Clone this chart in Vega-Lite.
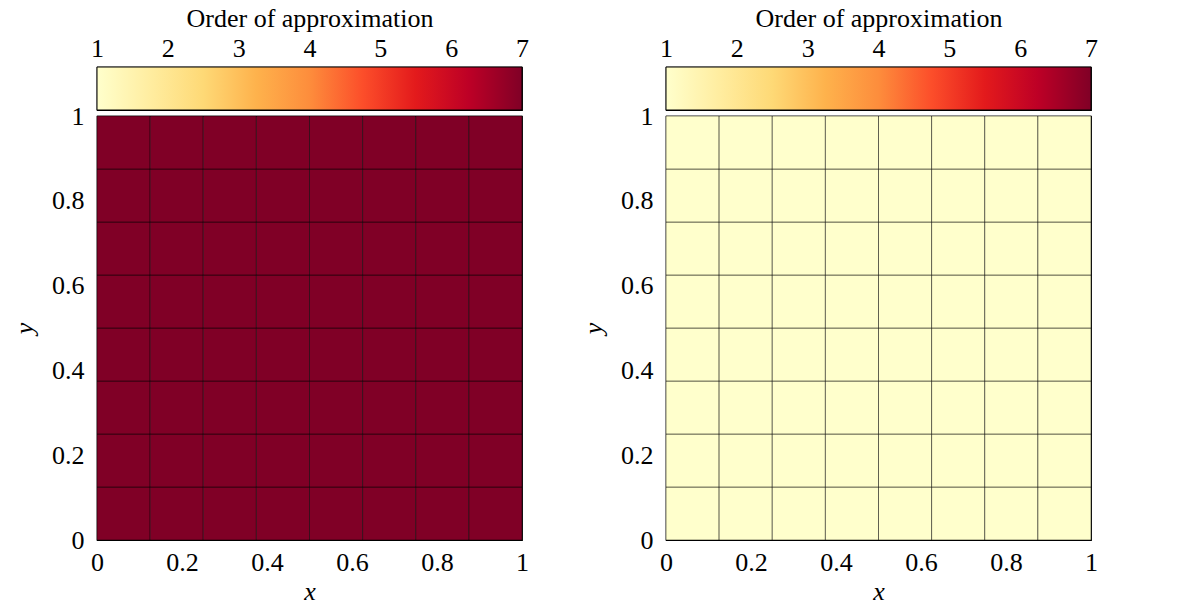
{
  "$schema": "https://vega.github.io/schema/vega-lite/v6.json",
  "background": "white",
  "padding": {"left": 10, "top": 4, "right": 5, "bottom": 2},
  "datasets": {
    "bar": [{"lo": 1, "hi": 7}],
    "cells": [
      {"x":0,"x2":0.125,"y":0,"y2":0.125,"L":7,"R":1},{"x":0.125,"x2":0.25,"y":0,"y2":0.125,"L":7,"R":1},{"x":0.25,"x2":0.375,"y":0,"y2":0.125,"L":7,"R":1},{"x":0.375,"x2":0.5,"y":0,"y2":0.125,"L":7,"R":1},{"x":0.5,"x2":0.625,"y":0,"y2":0.125,"L":7,"R":1},{"x":0.625,"x2":0.75,"y":0,"y2":0.125,"L":7,"R":1},{"x":0.75,"x2":0.875,"y":0,"y2":0.125,"L":7,"R":1},{"x":0.875,"x2":1,"y":0,"y2":0.125,"L":7,"R":1},
      {"x":0,"x2":0.125,"y":0.125,"y2":0.25,"L":7,"R":1},{"x":0.125,"x2":0.25,"y":0.125,"y2":0.25,"L":7,"R":1},{"x":0.25,"x2":0.375,"y":0.125,"y2":0.25,"L":7,"R":1},{"x":0.375,"x2":0.5,"y":0.125,"y2":0.25,"L":7,"R":1},{"x":0.5,"x2":0.625,"y":0.125,"y2":0.25,"L":7,"R":1},{"x":0.625,"x2":0.75,"y":0.125,"y2":0.25,"L":7,"R":1},{"x":0.75,"x2":0.875,"y":0.125,"y2":0.25,"L":7,"R":1},{"x":0.875,"x2":1,"y":0.125,"y2":0.25,"L":7,"R":1},
      {"x":0,"x2":0.125,"y":0.25,"y2":0.375,"L":7,"R":1},{"x":0.125,"x2":0.25,"y":0.25,"y2":0.375,"L":7,"R":1},{"x":0.25,"x2":0.375,"y":0.25,"y2":0.375,"L":7,"R":1},{"x":0.375,"x2":0.5,"y":0.25,"y2":0.375,"L":7,"R":1},{"x":0.5,"x2":0.625,"y":0.25,"y2":0.375,"L":7,"R":1},{"x":0.625,"x2":0.75,"y":0.25,"y2":0.375,"L":7,"R":1},{"x":0.75,"x2":0.875,"y":0.25,"y2":0.375,"L":7,"R":1},{"x":0.875,"x2":1,"y":0.25,"y2":0.375,"L":7,"R":1},
      {"x":0,"x2":0.125,"y":0.375,"y2":0.5,"L":7,"R":1},{"x":0.125,"x2":0.25,"y":0.375,"y2":0.5,"L":7,"R":1},{"x":0.25,"x2":0.375,"y":0.375,"y2":0.5,"L":7,"R":1},{"x":0.375,"x2":0.5,"y":0.375,"y2":0.5,"L":7,"R":1},{"x":0.5,"x2":0.625,"y":0.375,"y2":0.5,"L":7,"R":1},{"x":0.625,"x2":0.75,"y":0.375,"y2":0.5,"L":7,"R":1},{"x":0.75,"x2":0.875,"y":0.375,"y2":0.5,"L":7,"R":1},{"x":0.875,"x2":1,"y":0.375,"y2":0.5,"L":7,"R":1},
      {"x":0,"x2":0.125,"y":0.5,"y2":0.625,"L":7,"R":1},{"x":0.125,"x2":0.25,"y":0.5,"y2":0.625,"L":7,"R":1},{"x":0.25,"x2":0.375,"y":0.5,"y2":0.625,"L":7,"R":1},{"x":0.375,"x2":0.5,"y":0.5,"y2":0.625,"L":7,"R":1},{"x":0.5,"x2":0.625,"y":0.5,"y2":0.625,"L":7,"R":1},{"x":0.625,"x2":0.75,"y":0.5,"y2":0.625,"L":7,"R":1},{"x":0.75,"x2":0.875,"y":0.5,"y2":0.625,"L":7,"R":1},{"x":0.875,"x2":1,"y":0.5,"y2":0.625,"L":7,"R":1},
      {"x":0,"x2":0.125,"y":0.625,"y2":0.75,"L":7,"R":1},{"x":0.125,"x2":0.25,"y":0.625,"y2":0.75,"L":7,"R":1},{"x":0.25,"x2":0.375,"y":0.625,"y2":0.75,"L":7,"R":1},{"x":0.375,"x2":0.5,"y":0.625,"y2":0.75,"L":7,"R":1},{"x":0.5,"x2":0.625,"y":0.625,"y2":0.75,"L":7,"R":1},{"x":0.625,"x2":0.75,"y":0.625,"y2":0.75,"L":7,"R":1},{"x":0.75,"x2":0.875,"y":0.625,"y2":0.75,"L":7,"R":1},{"x":0.875,"x2":1,"y":0.625,"y2":0.75,"L":7,"R":1},
      {"x":0,"x2":0.125,"y":0.75,"y2":0.875,"L":7,"R":1},{"x":0.125,"x2":0.25,"y":0.75,"y2":0.875,"L":7,"R":1},{"x":0.25,"x2":0.375,"y":0.75,"y2":0.875,"L":7,"R":1},{"x":0.375,"x2":0.5,"y":0.75,"y2":0.875,"L":7,"R":1},{"x":0.5,"x2":0.625,"y":0.75,"y2":0.875,"L":7,"R":1},{"x":0.625,"x2":0.75,"y":0.75,"y2":0.875,"L":7,"R":1},{"x":0.75,"x2":0.875,"y":0.75,"y2":0.875,"L":7,"R":1},{"x":0.875,"x2":1,"y":0.75,"y2":0.875,"L":7,"R":1},
      {"x":0,"x2":0.125,"y":0.875,"y2":1,"L":7,"R":1},{"x":0.125,"x2":0.25,"y":0.875,"y2":1,"L":7,"R":1},{"x":0.25,"x2":0.375,"y":0.875,"y2":1,"L":7,"R":1},{"x":0.375,"x2":0.5,"y":0.875,"y2":1,"L":7,"R":1},{"x":0.5,"x2":0.625,"y":0.875,"y2":1,"L":7,"R":1},{"x":0.625,"x2":0.75,"y":0.875,"y2":1,"L":7,"R":1},{"x":0.75,"x2":0.875,"y":0.875,"y2":1,"L":7,"R":1},{"x":0.875,"x2":1,"y":0.875,"y2":1,"L":7,"R":1}
    ]
  },
  "config": {
    "font": "Liberation Serif",
    "view": {"stroke": "black", "strokeWidth": 1.2},
    "axis": {
      "labelFont": "Liberation Serif", "titleFont": "Liberation Serif",
      "labelFontSize": 26, "titleFontSize": 26, "labelColor": "black", "titleColor": "black",
      "titleFontWeight": "normal", "ticks": false, "domain": false, "grid": false
    }
  },
  "spacing": 49,
  "hconcat": [
    {
      "spacing": -10,
      "vconcat": [
        {
          "width": 425, "height": 43,
          "data": {"name": "bar"},
          "mark": {"type": "rect", "stroke": "black", "strokeWidth": 1,
            "fill": {"gradient": "linear", "x1": 0, "y1": 0, "x2": 1, "y2": 0,
              "stops": [
                {"offset": 0, "color": "#ffffcc"}, {"offset": 0.125, "color": "#ffeda0"},
                {"offset": 0.25, "color": "#fed976"}, {"offset": 0.375, "color": "#feb24c"},
                {"offset": 0.5, "color": "#fd8d3c"}, {"offset": 0.625, "color": "#fc4e2a"},
                {"offset": 0.75, "color": "#e31a1c"}, {"offset": 0.875, "color": "#bd0026"},
                {"offset": 1, "color": "#800026"}]}},
          "encoding": {
            "x": {"field": "lo", "type": "quantitative", "scale": {"domain": [1, 7], "nice": false, "zero": false},
              "axis": {"orient": "top", "values": [1,2,3,4,5,6,7], "labelFlush": false, "labelPadding": 6, "title": "Order of approximation", "titlePadding": 4}},
            "x2": {"field": "hi"}
          }
        },
        {
          "width": 425, "height": 424,
          "data": {"name": "cells"},
          "mark": {"type": "rect", "stroke": "black", "strokeWidth": 0.5},
          "encoding": {
            "x": {"field": "x", "type": "quantitative", "scale": {"domain": [0, 1], "nice": false},
              "axis": {"values": [0,0.2,0.4,0.6,0.8,1], "format": "~g", "labelFlush": false, "labelPadding": 9, "title": "x", "titleFontStyle": "italic", "titlePadding": 3}},
            "x2": {"field": "x2"},
            "y": {"field": "y", "type": "quantitative", "scale": {"domain": [0, 1], "nice": false},
              "axis": {"values": [0,0.2,0.4,0.6,0.8,1], "format": "~g", "labelFlush": false, "labelPadding": 13, "title": "y", "titleFontStyle": "italic", "titlePadding": 14}},
            "y2": {"field": "y2"},
            "color": {"field": "L", "type": "quantitative", "scale": {"domain": [1,1.75,2.5,3.25,4,4.75,5.5,6.25,7], "range": ["#ffffcc","#ffeda0","#fed976","#feb24c","#fd8d3c","#fc4e2a","#e31a1c","#bd0026","#800026"]}, "legend": null}
          }
        }
      ]
    },
    {
      "spacing": -10,
      "vconcat": [
        {
          "width": 425, "height": 43,
          "data": {"name": "bar"},
          "mark": {"type": "rect", "stroke": "black", "strokeWidth": 1,
            "fill": {"gradient": "linear", "x1": 0, "y1": 0, "x2": 1, "y2": 0,
              "stops": [
                {"offset": 0, "color": "#ffffcc"}, {"offset": 0.125, "color": "#ffeda0"},
                {"offset": 0.25, "color": "#fed976"}, {"offset": 0.375, "color": "#feb24c"},
                {"offset": 0.5, "color": "#fd8d3c"}, {"offset": 0.625, "color": "#fc4e2a"},
                {"offset": 0.75, "color": "#e31a1c"}, {"offset": 0.875, "color": "#bd0026"},
                {"offset": 1, "color": "#800026"}]}},
          "encoding": {
            "x": {"field": "lo", "type": "quantitative", "scale": {"domain": [1, 7], "nice": false, "zero": false},
              "axis": {"orient": "top", "values": [1,2,3,4,5,6,7], "labelFlush": false, "labelPadding": 6, "title": "Order of approximation", "titlePadding": 4}},
            "x2": {"field": "hi"}
          }
        },
        {
          "width": 425, "height": 424,
          "data": {"name": "cells"},
          "mark": {"type": "rect", "stroke": "black", "strokeWidth": 0.5},
          "encoding": {
            "x": {"field": "x", "type": "quantitative", "scale": {"domain": [0, 1], "nice": false},
              "axis": {"values": [0,0.2,0.4,0.6,0.8,1], "format": "~g", "labelFlush": false, "labelPadding": 9, "title": "x", "titleFontStyle": "italic", "titlePadding": 3}},
            "x2": {"field": "x2"},
            "y": {"field": "y", "type": "quantitative", "scale": {"domain": [0, 1], "nice": false},
              "axis": {"values": [0,0.2,0.4,0.6,0.8,1], "format": "~g", "labelFlush": false, "labelPadding": 13, "title": "y", "titleFontStyle": "italic", "titlePadding": 14}},
            "y2": {"field": "y2"},
            "color": {"field": "R", "type": "quantitative", "scale": {"domain": [1,1.75,2.5,3.25,4,4.75,5.5,6.25,7], "range": ["#ffffcc","#ffeda0","#fed976","#feb24c","#fd8d3c","#fc4e2a","#e31a1c","#bd0026","#800026"]}, "legend": null}
          }
        }
      ]
    }
  ]
}
